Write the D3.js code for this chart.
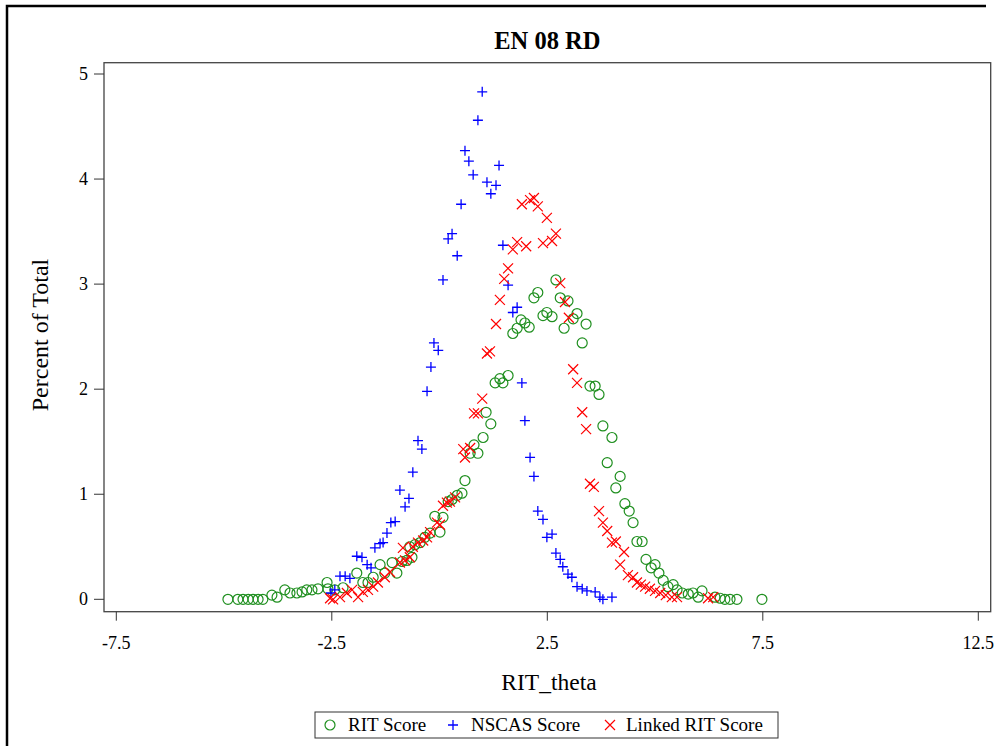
<!DOCTYPE html>
<html><head><meta charset="utf-8">
<script src="https://cdn.jsdelivr.net/npm/d3@7/dist/d3.min.js"></script>
<style>
body{margin:0;background:#fff;}
text{font-family:"Liberation Serif","Times New Roman",serif;fill:#000;}
</style></head><body>
<script>
const title = "EN 08 RD";
const xLabel = "RIT_theta";
const yLabel = "Percent of Total";
const xTicks = [-7.5, -2.5, 2.5, 7.5, 12.5];
const yTicks = [0, 1, 2, 3, 4, 5];
const seriesNames = ["RIT Score", "NSCAS Score", "Linked RIT Score"];

// RIT Score (theta, percent)
const ritX = [-4.91,-4.68,-4.56,-4.44,-4.33,-4.21,-4.10,-3.89,-3.77,-3.59,-3.47,-3.31,-3.19,-3.08,-2.96,-2.82,-2.61,-2.59,-2.43,-2.24,-1.92,-1.78,-1.66,-1.54,-1.38,-1.27,-1.10,-0.99,-0.87,-0.76,-0.64,-0.69,-0.57,-0.45,-0.34,-0.22,-0.11,0.01,0.08,0.20,0.29,0.41,0.52,0.59,0.71,0.80,0.89,1.01,1.08,1.19,1.29,1.40,1.47,1.59,1.70,1.80,1.89,1.98,2.08,2.19,2.28,2.40,2.49,2.61,2.70,2.80,2.98,2.89,3.10,3.19,3.31,3.40,3.49,3.61,3.70,3.79,4.00,3.89,4.19,4.09,4.30,4.40,4.49,4.58,4.70,4.79,4.91,5.00,5.09,5.19,5.30,5.42,5.51,5.63,5.77,5.88,6.00,6.09,6.39,6.51,6.62,6.74,6.90,7.48];
const ritY = [0.00,0.00,0.00,0.00,0.00,0.00,0.00,0.04,0.02,0.09,0.06,0.06,0.07,0.09,0.09,0.10,0.16,0.10,0.09,0.11,0.25,0.16,0.16,0.21,0.33,0.25,0.35,0.25,0.36,0.37,0.40,0.50,0.52,0.54,0.59,0.63,0.79,0.64,0.78,0.93,0.95,0.99,1.01,1.13,1.39,1.47,1.39,1.54,1.78,1.67,2.06,2.10,2.06,2.13,2.53,2.58,2.66,2.63,2.59,2.87,2.92,2.70,2.73,2.69,3.04,2.87,2.84,2.58,2.67,2.72,2.44,2.62,2.03,2.03,1.95,1.65,1.54,1.30,1.17,1.06,0.91,0.84,0.73,0.55,0.55,0.38,0.30,0.33,0.25,0.18,0.12,0.14,0.09,0.06,0.05,0.06,0.02,0.08,0.02,0.01,0.00,0.00,0.00,0.00];

// NSCAS Score
const nscasX = [-2.52,-2.43,-2.31,-2.19,-2.08,-1.92,-1.80,-1.68,-1.59,-1.50,-1.38,-1.31,-1.22,-1.13,-1.03,-0.92,-0.80,-0.71,-0.62,-0.50,-0.41,-0.29,-0.20,-0.13,-0.03,0.08,0.20,0.29,0.41,0.50,0.59,0.68,0.78,0.89,0.99,1.10,1.19,1.31,1.38,1.47,1.59,1.70,1.80,1.91,1.98,2.10,2.19,2.28,2.40,2.49,2.61,2.70,2.80,2.86,2.98,3.07,3.19,3.31,3.42,3.61,3.72,3.79,4.00];
const nscasY = [0.06,0.09,0.22,0.22,0.20,0.41,0.40,0.33,0.30,0.49,0.53,0.54,0.63,0.73,0.74,1.04,0.88,0.96,1.21,1.51,1.43,1.98,2.21,2.44,2.37,3.04,3.43,3.48,3.27,3.76,4.27,4.17,4.04,4.56,4.83,3.97,3.86,3.94,4.13,3.37,2.99,2.73,2.78,2.06,1.70,1.35,1.17,0.84,0.76,0.59,0.62,0.44,0.38,0.31,0.24,0.21,0.12,0.10,0.08,0.07,0.02,0.00,0.02];

// Linked RIT Score
const linkedX = [-2.54,-2.47,-2.31,-2.15,-2.03,-1.89,-1.78,-1.66,-1.54,-1.43,-1.27,-1.15,-0.92,-0.85,-0.80,-0.69,-0.62,-0.50,-0.38,-0.29,-0.22,-0.06,0.01,0.08,0.17,0.24,0.36,0.55,0.59,0.71,0.80,0.89,0.99,1.10,1.17,1.31,1.40,1.50,1.59,1.70,1.80,1.91,2.01,2.10,2.19,2.28,2.40,2.49,2.61,2.70,2.80,2.91,3.00,3.10,3.19,3.31,3.40,3.49,3.58,3.70,3.79,3.89,4.00,4.09,4.19,4.28,4.37,4.49,4.58,4.67,4.77,4.88,5.00,5.12,5.25,5.39,5.51,6.23,6.35];
const linkedY = [0.01,0.00,0.02,0.06,0.09,0.02,0.07,0.09,0.12,0.16,0.21,0.26,0.35,0.49,0.37,0.40,0.50,0.54,0.56,0.59,0.64,0.73,0.71,0.89,0.92,0.93,0.97,1.43,1.35,1.44,1.77,1.77,1.91,2.34,2.36,2.62,2.85,3.05,3.15,3.33,3.40,3.76,3.36,3.80,3.82,3.74,3.39,3.63,3.41,3.48,3.01,2.83,2.68,2.19,2.06,1.78,1.62,1.10,1.07,0.84,0.73,0.65,0.54,0.55,0.33,0.45,0.23,0.21,0.16,0.14,0.12,0.10,0.08,0.06,0.04,0.02,0.02,0.01,0.02];

const W = 995, H = 746;
const green = "#1f8f1f", blue = "#0000ff", red = "#ff0000";

const svg = d3.select("body").append("svg").attr("width", W).attr("height", H);

const x = d3.scaleLinear().domain([-7.5, 12.5]).range([116.3, 978.3]);
const y = d3.scaleLinear().domain([0, 5]).range([599.3, 74]);
const frame = {l: 104, r: 990.7, t: 62.7, b: 611.7};

// outer border (left & top)
svg.append("path").attr("d", `M7,746 V6 H986`).attr("fill", "none").attr("stroke", "#000").attr("stroke-width", 2.5);

// plot frame
svg.append("rect").attr("x", frame.l).attr("y", frame.t)
  .attr("width", frame.r - frame.l).attr("height", frame.b - frame.t)
  .attr("fill", "none").attr("stroke", "#444").attr("stroke-width", 1.3);

// x axis
const xAxis = svg.append("g");
xTicks.forEach(t => {
  xAxis.append("line").attr("x1", x(t)).attr("x2", x(t)).attr("y1", frame.b).attr("y2", frame.b + 9)
    .attr("stroke", "#333").attr("stroke-width", 1);
  xAxis.append("text").attr("x", x(t)).attr("y", frame.b + 37).attr("text-anchor", "middle")
    .attr("font-size", 18).text(t.toFixed(1));
});
// y axis
yTicks.forEach(t => {
  svg.append("line").attr("x1", frame.l - 10).attr("x2", frame.l).attr("y1", y(t)).attr("y2", y(t))
    .attr("stroke", "#333").attr("stroke-width", 1);
  svg.append("text").attr("x", frame.l - 16).attr("y", y(t) + 6).attr("text-anchor", "end")
    .attr("font-size", 18).text(t);
});

svg.append("text").attr("x", (frame.l + frame.r) / 2).attr("y", 49).attr("text-anchor", "middle")
  .attr("font-size", 24.5).attr("font-weight", "bold").text(title);
svg.append("text").attr("x", 549).attr("y", 690).attr("text-anchor", "middle")
  .attr("font-size", 23.5).text(xLabel);
svg.append("text").attr("transform", "translate(48,335) rotate(-90)").attr("text-anchor", "middle")
  .attr("font-size", 24).text(yLabel);

const plot = svg.append("g");
const s = 5;
function drawCircle(g, cx, cy) {
  g.append("circle").attr("cx", cx).attr("cy", cy).attr("r", 5)
    .attr("fill", "none").attr("stroke", green).attr("stroke-width", 1.2);
}
function drawPlus(g, cx, cy) {
  g.append("path").attr("d", `M${cx - s},${cy}H${cx + s}M${cx},${cy - s}V${cy + s}`)
    .attr("stroke", blue).attr("stroke-width", 1.3).attr("fill", "none");
}
function drawX(g, cx, cy) {
  g.append("path").attr("d", `M${cx - s},${cy - s}L${cx + s},${cy + s}M${cx - s},${cy + s}L${cx + s},${cy - s}`)
    .attr("stroke", red).attr("stroke-width", 1.2).attr("fill", "none");
}
ritX.forEach((v, i) => drawCircle(plot, x(v), y(ritY[i])));
nscasX.forEach((v, i) => drawPlus(plot, x(v), y(nscasY[i])));
linkedX.forEach((v, i) => drawX(plot, x(v), y(linkedY[i])));

// legend
const lg = svg.append("g");
lg.append("rect").attr("x", 315).attr("y", 712).attr("width", 463).attr("height", 26)
  .attr("fill", "#fff").attr("stroke", "#333").attr("stroke-width", 1);
const items = [
  {name: seriesNames[0], mx: 330, tx: 348, draw: drawCircle},
  {name: seriesNames[1], mx: 453, tx: 471, draw: drawPlus},
  {name: seriesNames[2], mx: 610, tx: 626, draw: drawX}
];
items.forEach(it => {
  it.draw(lg, it.mx, 725);
  lg.append("text").attr("x", it.tx).attr("y", 731).attr("font-size", 19).text(it.name);
});
</script>
</body></html>
